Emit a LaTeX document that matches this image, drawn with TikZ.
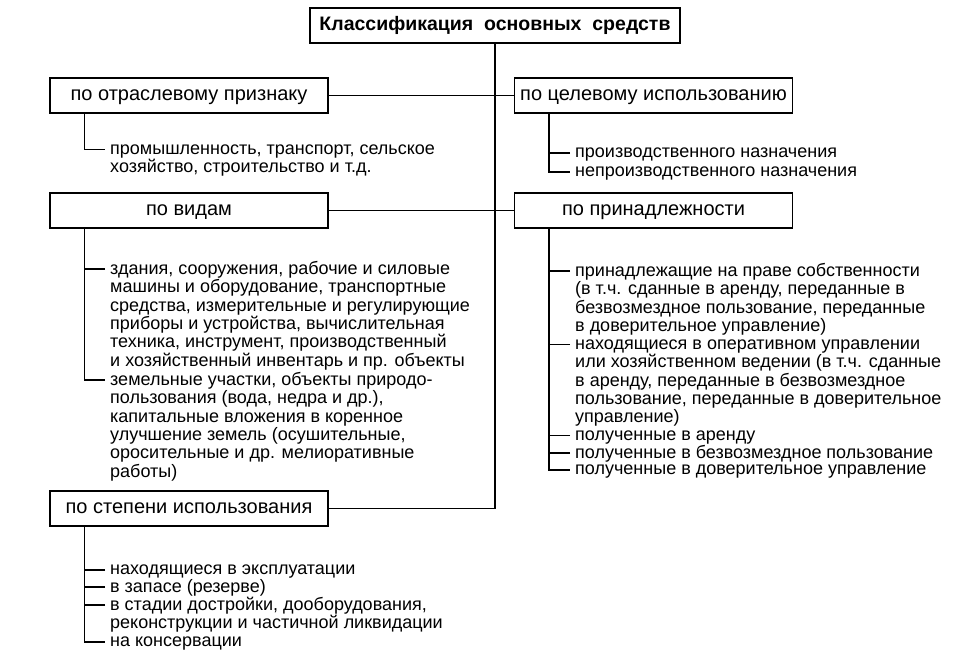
\documentclass[tikz,border=0pt]{standalone}
\usepackage{fontspec}
\setmainfont{Liberation Sans}
\newcommand\itemfont{\fontsize{18}{18.4}\selectfont\lineskiplimit=-20pt\relax}
\tikzstyle{heading} = [draw,line width=1.3pt,rectangle,inner sep=0,minimum width=278pt,minimum height=35pt,text height=10.4pt,text depth=0pt,font=\fontsize{20}{22}\selectfont]
\tikzstyle{entry} = [anchor=north west,inner sep=0,align=left,font=\itemfont]
\tikzstyle{branch} = [-,line width=1.3pt]
\def \tu {20pt}
\def \gap {5pt}
\def \half {8.2pt}
\def \st {35pt}

\begin{document}
\begin{tikzpicture}[x=1pt,y=-1pt]
      \useasboundingbox (0,0) rectangle (973,654);
      \node[heading,minimum width=370pt,font=\bfseries\fontsize{19.5}{22}\selectfont] (kl) at (495,25.5) {Классификация\ \ основных\ \ средств};
      \node[heading] (otr) at (189,95.5) {по отраслевому признаку};
      \node[heading] (cel) at (653.5,95.5) {по целевому использованию};
      \node[heading] (vid) at (189,210.5) {по видам};
      \node[heading] (pri) at (653.5,210.5) {по принадлежности};
      \node[heading] (isp) at (189,508.5) {по степени использования};
      \draw[branch] (kl.south) |- (isp.east);
      \draw[branch] (otr.east) -- (cel.west);
      \draw[branch] (vid.east) -- (pri.west);

      \node[entry] (otr1) at (110,141.5) {\strut промышленность, транспорт, сельское\\хозяйство, строительство и т.д.};
      \node[entry] (cel1) at (575,144.8) {\strut производственного назначения};
      \node[entry] (cel2) at (575,163.8) {\strut непроизводственного назначения};
      \node[entry] (vid1) at (110,260.8) {\strut здания, сооружения, рабочие и силовые\\машины и оборудование, транспортные\\средства, измерительные и регулирующие\\приборы и устройства, вычислительная\\техника, инструмент, производственный\\и хозяйственный инвентарь и пр. объекты};
      \node[entry] (vid2) at (110,371.8) {\strut земельные участки, объекты природо-\\пользования (вода, недра и др.),\\капитальные вложения в коренное\\улучшение земель (осушительные,\\оросительные и др. мелиоративные\\работы)};
      \node[entry] (pri1) at (575,262.8) {\strut принадлежащие на праве собственности\\(в т.ч. сданные в аренду, переданные в\\безвозмездное пользование, переданные\\в доверительное управление)};
      \node[entry] (pri2) at (575,336.3) {\strut находящиеся в оперативном управлении\\или хозяйственном ведении (в т.ч. сданные\\в аренду, переданные в безвозмездное\\пользование, переданные в доверительное\\управление)};
      \node[entry] (pri3) at (575,427.3) {\strut полученные в аренду};
      \node[entry] (pri4) at (575,444.8) {\strut полученные в безвозмездное пользование};
      \node[entry] (pri5) at (575,461.8) {\strut полученные в доверительное управление};
      \node[entry] (isp1) at (110,561.8) {\strut находящиеся в эксплуатации};
      \node[entry] (isp2) at (110,578.8) {\strut в запасе (резерве)};
      \node[entry] (isp3) at (110,596.8) {\strut в стадии достройки, дооборудования,\\реконструкции и частичной ликвидации};
      \node[entry] (isp4) at (110,633.8) {\strut на консервации};

      \foreach \i in {cel1,vid1,pri1,pri2,pri3,pri4,isp1,isp2,isp3}
        \draw[branch] ([xshift=-\gap,yshift=-\half]\i.north west) -- +(-\tu,0);
      \foreach \b/\i in {otr/otr1,cel/cel2,vid/vid2,pri/pri5,isp/isp4}
        \draw[branch] ([xshift=\st]\b.south west) |- ([xshift=-\gap,yshift=-\half]\i.north west);
    \end{tikzpicture}
\end{document}
